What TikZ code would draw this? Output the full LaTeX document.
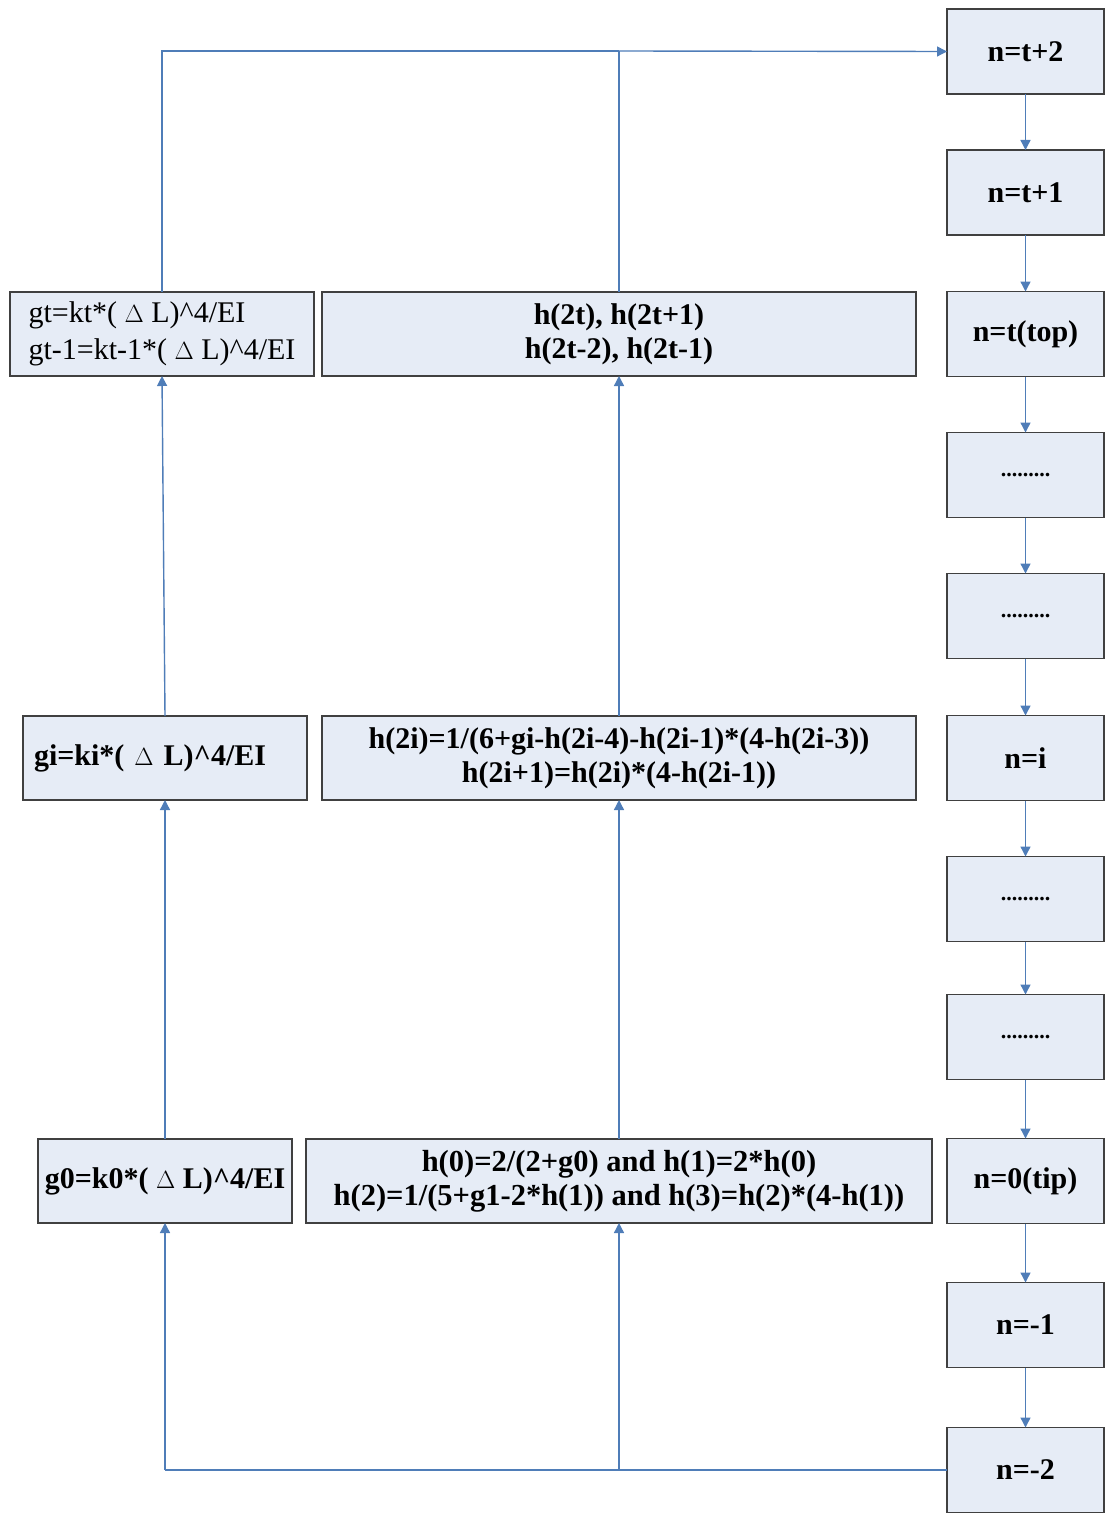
\documentclass[tikz,border=0pt]{standalone}
\usepackage{fontspec}
\setmainfont{Liberation Serif}
\usetikzlibrary{arrows.meta}
\definecolor{boxfill}{HTML}{E6ECF6}
\definecolor{boxdraw}{HTML}{404040}
\definecolor{arrblue}{HTML}{4F7DB8}
\tikzset{
  box/.style={draw=boxdraw, line width=1.8pt, fill=boxfill, inner sep=0pt, outer sep=0pt,
    font=\fontsize{30}{34}\selectfont\bfseries, align=center},
  rbox/.style={box, minimum width=157, minimum height=85},
  dbox/.style={rbox, font=\fontsize{22}{26}\selectfont\bfseries},
  conn/.style={draw=arrblue, line width=1.4pt},
  arr/.style={conn, -{Triangle[length=10pt,width=10pt]}},
}
\begin{document}
\begin{tikzpicture}[x=1pt,y=-1pt]
\useasboundingbox (0,0) rectangle (1105,1517);
% right column
\node[rbox] (r1) at (1025.5,51.5) {n=t+2};
\node[rbox] (r2) at (1025.5,192.5) {n=t+1};
\node[rbox] (r3) at (1025.5,334) {n=t(top)};
\node[dbox] (r4) at (1025.5,475) {.........};
\node[dbox] (r5) at (1025.5,616) {.........};
\node[rbox] (r6) at (1025.5,758) {n=i};
\node[dbox] (r7) at (1025.5,899) {.........};
\node[dbox] (r8) at (1025.5,1037) {.........};
\node[rbox] (r9) at (1025.5,1181) {n=0(tip)};
\node[rbox] (r10) at (1025.5,1325) {n=-1};
\node[rbox] (r11) at (1025.5,1470) {n=-2};
\foreach \a/\b in {r1/r2,r2/r3,r3/r4,r4/r5,r5/r6,r6/r7,r7/r8,r8/r9,r9/r10,r10/r11}
  \draw[arr] (\a.south) -- (\b.north);
% left column
\node[box, minimum width=304, minimum height=84, font=\fontsize{30}{37}\selectfont, align=left] (gt) at (162,334)
  {gt=kt*( $\Delta$ L)\^{}4/EI\\gt-1=kt-1*( $\Delta$ L)\^{}4/EI};
\node[box, minimum width=284, minimum height=84, text width=262, align=left] (gi) at (165,758)
  {gi=ki*( $\Delta$ L)\^{}4/EI};
\node[box, minimum width=254, minimum height=84] (g0) at (165,1181)
  {g0=k0*( $\Delta$ L)\^{}4/EI};
% middle column
\node[box, minimum width=594, minimum height=84] (h2t) at (619,334)
  {h(2t), h(2t+1)\\h(2t-2), h(2t-1)};
\node[box, minimum width=594, minimum height=84] (h2i) at (619,758)
  {h(2i)=1/(6+gi-h(2i-4)-h(2i-1)*(4-h(2i-3))\\h(2i+1)=h(2i)*(4-h(2i-1))};
\node[box, minimum width=626, minimum height=84, font=\fontsize{30.5}{34}\selectfont\bfseries] (h0) at (619,1181)
  {h(0)=2/(2+g0) and h(1)=2*h(0)\\h(2)=1/(5+g1-2*h(1)) and h(3)=h(2)*(4-h(1))};
% junction coordinates
\coordinate (jl) at (165,1470);
\coordinate (jm) at (619,1470);
\coordinate (tl) at (162,51);
\coordinate (tm) at (619,51);
% bottom feedback
\draw[conn] (r11.west) -- (jm) -- (jl);
\draw[arr] (jl) -- (g0.south);
\draw[arr] (jm) -- (h0.south);
% upward
\draw[arr] (g0.north) -- (gi.south);
\draw[arr] (gi.north) -- (gt.south);
\draw[arr] (h0.north) -- (h2i.south);
\draw[arr] (h2i.north) -- (h2t.south);
% top
\draw[conn] (gt.north) -- (tl) -- (tm);
\draw[conn] (h2t.north) -- (tm);
\draw[arr] (tm) -- (r1.west);
\end{tikzpicture}
\end{document}
